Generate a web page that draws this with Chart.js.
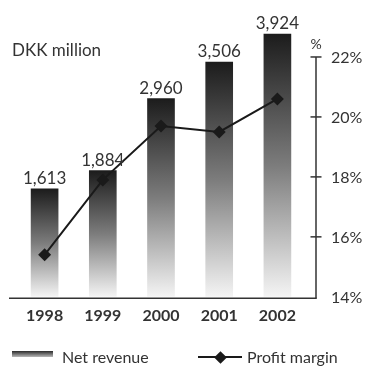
<!DOCTYPE html>
<html><head><meta charset="utf-8">
<script src="https://cdn.jsdelivr.net/npm/chart.js@4/dist/chart.umd.min.js"></script>
<style>
html,body{margin:0;padding:0;background:#fff;}
#wrap{position:relative;width:368px;height:367px;overflow:hidden;}
#c{position:absolute;left:0;top:0;}
.txt{position:absolute;font-family:Lato,sans-serif;font-size:16px;color:#333;white-space:nowrap;line-height:18px;}
.abs{position:absolute;}
</style></head><body>
<div id="wrap">
<canvas id="c" width="368" height="367"></canvas>
<div class="txt" id="unit" style="left:12px;top:41px;font-size:17px;">DKK million</div>
<div id="legend"></div>
</div>
<script>
const categories = ['1998', '1999', '2000', '2001', '2002'];
const netRevenue = [1613, 1884, 2960, 3506, 3924];
const profitMargin = [15.4, 17.9, 19.7, 19.5, 20.6];
const marginTicks = [14, 16, 18, 20, 22];
const seriesNames = ['Net revenue', 'Profit margin'];
const unitLabel = 'DKK million';
const marginUnit = '%';

const FONT = 'Lato, sans-serif';
const TEXT = '#333';
const INK = '#1a1a1a';

document.getElementById('unit').textContent = unitLabel;

function barGradient(ctx) {
  const chart = ctx.chart;
  if (!chart.chartArea || ctx.type !== 'data') return '#555';
  const ys = chart.scales.y;
  const top = ys.getPixelForValue(ctx.raw);
  const bot = ys.getPixelForValue(0);
  const g = chart.ctx.createLinearGradient(0, top, 0, bot);
  g.addColorStop(0, '#1c1c1c');
  g.addColorStop(0.5, '#7c7c7c');
  g.addColorStop(1, '#f4f4f4');
  return g;
}

const fmt = v => v.toLocaleString('en-US');

const deco = {
  id: 'deco',
  afterDatasetsDraw(chart) {
    const { ctx, chartArea, scales } = chart;
    const y1 = scales.y1;
    const axisX = chartArea.right + 9.5;
    const base = scales.y.getPixelForValue(0) + 1.5;
    ctx.save();
    ctx.strokeStyle = '#333';
    ctx.lineWidth = 1.5;
    // baseline
    ctx.beginPath();
    ctx.moveTo(chartArea.left - 6.5, base);
    ctx.lineTo(axisX + 0.75, base);
    ctx.stroke();
    // right axis
    const topY = y1.getPixelForValue(marginTicks[marginTicks.length - 1]);
    ctx.beginPath();
    ctx.moveTo(axisX, base);
    ctx.lineTo(axisX, topY);
    ctx.stroke();
    ctx.fillStyle = TEXT;
    ctx.font = '16px ' + FONT;
    ctx.textAlign = 'left';
    ctx.textBaseline = 'middle';
    marginTicks.forEach((t, i) => {
      const py = y1.getPixelForValue(t);
      if (i > 0) {
        ctx.beginPath();
        ctx.moveTo(axisX - 5.5, py);
        ctx.lineTo(axisX + 5.5, py);
        ctx.stroke();
      }
      ctx.fillText(t + '%', axisX + 15, py + 1);
    });
    ctx.font = '14px ' + FONT;
    ctx.textAlign = 'center';
    ctx.fillText(marginUnit, axisX, topY - 12);
    // value labels over bars
    const meta = chart.getDatasetMeta(1);
    ctx.font = '17px ' + FONT;
    ctx.textBaseline = 'alphabetic';
    meta.data.forEach((bar, i) => {
      ctx.fillText(fmt(netRevenue[i]), bar.x, bar.y - 5);
    });
    ctx.restore();
  }
};

new Chart(document.getElementById('c'), {
  data: {
    labels: categories,
    datasets: [
      {
        type: 'line',
        label: seriesNames[1],
        data: profitMargin,
        yAxisID: 'y1',
        order: 0,
        borderColor: INK,
        borderWidth: 2,
        backgroundColor: INK,
        pointStyle: 'rectRot',
        pointRadius: 6.5,
        pointBackgroundColor: INK,
        pointBorderColor: INK,
        pointBorderWidth: 0,
        tension: 0
      },
      {
        type: 'bar',
        label: seriesNames[0],
        data: netRevenue,
        yAxisID: 'y',
        order: 1,
        backgroundColor: barGradient,
        borderWidth: 0,
        barThickness: 27
      }
    ]
  },
  options: {
    responsive: false,
    animation: false,
    devicePixelRatio: 1,
    layout: { padding: { left: 15.5, right: 61.5, top: 27, bottom: 33 } },
    plugins: { legend: { display: false }, tooltip: { enabled: false }, title: { display: false } },
    scales: {
      x: {
        type: 'category',
        offset: true,
        grid: { display: false, drawTicks: false },
        border: { display: false },
        ticks: { font: { family: FONT, size: 16, weight: 'bold' }, color: TEXT, padding: 9 }
      },
      y: { display: false, min: 0, max: 4030 },
      y1: { display: false, min: 14, max: 23 }
    }
  },
  plugins: [deco]
});

// HTML legend
const lg = document.getElementById('legend');
lg.innerHTML =
  '<div class="abs" style="left:12px;top:351px;width:41px;height:6px;background:linear-gradient(#2a2a2a,#b8b8b8);"></div>' +
  '<div class="txt" style="left:62px;top:348px;">' + seriesNames[0] + '</div>' +
  '<div class="abs" style="left:198px;top:356px;width:44px;height:2px;background:' + INK + ';"></div>' +
  '<div class="abs" style="left:215.5px;top:352.5px;width:9px;height:9px;transform:rotate(45deg);background:' + INK + ';"></div>' +
  '<div class="txt" style="left:247px;top:348px;">' + seriesNames[1] + '</div>';
</script>
</body></html>
